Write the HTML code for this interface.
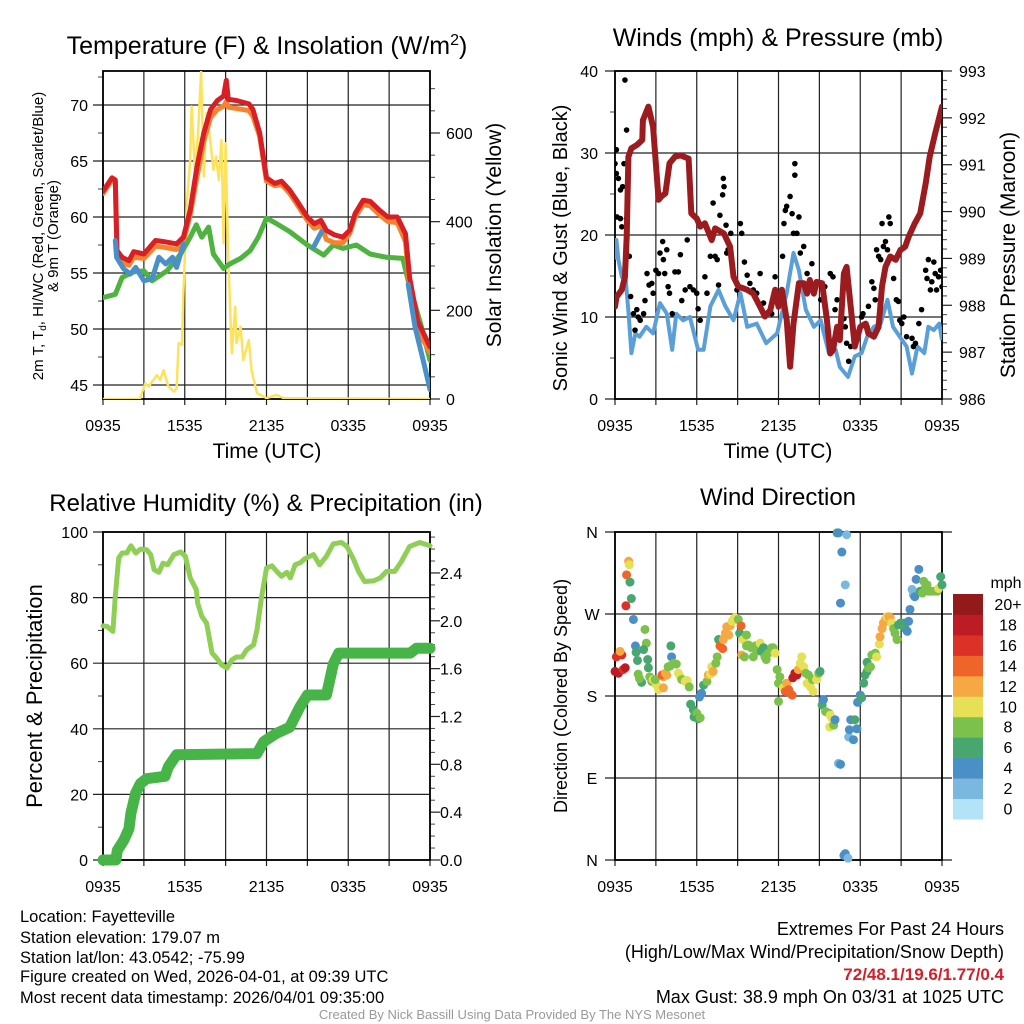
<!DOCTYPE html>
<html><head><meta charset="utf-8">
<style>
html,body{margin:0;padding:0;background:#fff;}
svg{display:block;font-family:"Liberation Sans",Arial,sans-serif;}
</style></head>
<body>
<svg id="fig" width="1024" height="1024" viewBox="0 0 1024 1024" xmlns="http://www.w3.org/2000/svg">
<rect width="1024" height="1024" fill="#fff"/>
<!-- Titles -->
<text x="267" y="54" font-size="25" text-anchor="middle">Temperature (F) &amp; Insolation (W/m<tspan dy="-9" font-size="16">2</tspan><tspan dy="9">)</tspan></text>
<text x="778" y="46" font-size="25" text-anchor="middle">Winds (mph) &amp; Pressure (mb)</text>
<text x="266" y="511" font-size="24" text-anchor="middle">Relative Humidity (%) &amp; Precipitation (in)</text>
<text x="778" y="505" font-size="24" text-anchor="middle">Wind Direction</text>
<!-- Axis titles -->
<text x="267" y="458" font-size="21" text-anchor="middle">Time (UTC)</text>
<text x="778" y="458" font-size="21" text-anchor="middle">Time (UTC)</text>
<text transform="translate(43,236) rotate(-90)" font-size="15" text-anchor="middle">2m T, T<tspan dy="3" font-size="10">d</tspan><tspan dy="-3">, HI/WC (Red, Green, Scarlet/Blue)</tspan></text>
<text transform="translate(58,236) rotate(-90)" font-size="15" text-anchor="middle">&amp; 9m T (Orange)</text>
<text transform="translate(501,235) rotate(-90)" font-size="21" text-anchor="middle">Solar Insolation (Yellow)</text>
<text transform="translate(567,248) rotate(-90)" font-size="20" text-anchor="middle">Sonic Wind &amp; Gust (Blue, Black)</text>
<text transform="translate(1015,255) rotate(-90)" font-size="21" text-anchor="middle">Station Pressure (Maroon)</text>
<text transform="translate(42,696) rotate(-90)" font-size="22" text-anchor="middle">Percent &amp; Precipitation</text>
<text transform="translate(567,696) rotate(-90)" font-size="18" text-anchor="middle">Direction (Colored By Speed)</text>
<!-- Footer -->
<g font-size="16.5">
<text x="20" y="922">Location: Fayetteville</text>
<text x="20" y="943">Station elevation: 179.07 m</text>
<text x="20" y="963">Station lat/lon: 43.0542; -75.99</text>
<text x="20" y="982">Figure created on Wed, 2026-04-01, at 09:39 UTC</text>
<text x="20" y="1003">Most recent data timestamp: 2026/04/01 09:35:00</text>
</g>
<g font-size="18" text-anchor="end">
<text x="1004" y="935">Extremes For Past 24 Hours</text>
<text x="1004" y="958">(High/Low/Max Wind/Precipitation/Snow Depth)</text>
<text x="1004" y="980" fill="#d0202a" font-weight="bold" font-size="17">72/48.1/19.6/1.77/0.4</text>
<text x="1004" y="1003">Max Gust: 38.9 mph On 03/31 at 1025 UTC</text>
</g>
<text x="512" y="1019" font-size="13" fill="#999" text-anchor="middle">Created By Nick Bassill Using Data Provided By The NYS Mesonet</text>
<g id="layer"></g>
</svg>
<script>
// ---- Panel 1 data ----
const timeTickLabels = ["0935","1535","2135","0335","0935"];
const tempRedH = [0,0.66,0.9,1.03,1.4,1.9,2.25,3.0,3.85,4.45,5.4,5.9,6.4,6.9,7.4,7.9,8.4,8.85,9.05,9.2,9.8,10.7,11.0,11.5,12.0,12.6,13.1,13.7,14.2,15.0,15.5,16.0,16.4,17.0,17.6,18.1,18.5,19.1,19.6,20.3,20.9,21.6,22.2,22.5,23.1,24];
const tempRedV = [62.3,63.5,63.3,57.0,56.4,56.1,56.9,56.7,57.9,57.8,57.6,58.2,60.6,64.5,67.5,69.6,70.4,70.8,72.2,70.5,70.4,70.1,69.6,67.5,63.5,63.0,63.2,62.4,61.5,60.0,59.4,59.7,58.8,58.4,58.2,58.8,60.3,61.5,61.4,60.6,60.0,60.0,58.5,54.6,50.7,48.4];
const temp9mV = [62.1,63.3,63.1,56.6,55.9,55.7,56.4,56.3,57.4,57.3,57.1,57.8,60.2,63.6,66.8,68.9,69.6,69.9,70.3,69.8,69.7,69.5,69.0,67.2,63.2,62.8,62.9,62.1,61.2,59.7,59.0,59.2,58.0,57.7,57.7,58.5,60.0,61.1,61.0,60.2,59.6,59.5,57.8,53.6,49.9,47.9];
const chillH = [0.9,1.0,1.5,2.0,2.4,3.0,3.6,4.1,4.6,5.1,5.4,5.9,null,15.45,16.05,null,22.4,22.9,23.5,24];
const chillV = [57.9,56.4,55.4,54.9,55.5,54.3,54.5,56.4,55.8,56.4,55.5,57.6,null,57.3,58.7,null,54.0,50.2,47.2,44.6];
const dewH = [0,0.9,1.4,2.25,3.0,3.6,4.7,5.7,6.4,6.85,7.25,7.75,8.1,8.85,9.3,10.1,10.8,11.4,12.0,12.75,13.7,15.0,16.2,16.9,17.6,18.6,19.6,20.8,22.0,22.4,23.3,24];
const dewV = [52.8,53.1,54.6,55.1,55.2,54.3,55.2,56.7,58.2,59.3,58.2,59.1,56.7,55.4,55.8,56.3,57.0,58.2,59.9,59.4,58.7,57.5,56.6,57.5,57.2,57.5,56.7,56.4,56.3,54.3,50.5,47.2];
const solarH = [0,2.7,3.1,3.35,3.6,3.95,4.2,4.45,4.8,5.2,5.4,5.55,5.8,5.9,6.15,6.4,6.5,6.77,7.0,7.2,7.4,7.6,7.9,8.1,8.3,8.5,8.7,8.85,9.0,9.2,9.45,9.7,9.8,10.1,10.3,10.7,10.9,11.3,12.0,12.75,13.25,24];
const solarV = [0,0,35,28,39,54,43,65,28,17,24,126,122,238,441,539,660,502,614,738,502,645,577,517,547,494,584,351,577,314,103,208,126,163,88,133,65,13,2,9,2,0];
const tempTicks = [45,50,55,60,65,70];
const solarTicks = [0,200,400,600];
// ---- Panel 2 data ----
const windH = [0,0.1,0.25,0.5,0.75,1.0,1.2,1.5,1.8,2.3,2.8,3.3,3.8,4.2,4.5,5.0,5.5,6.1,6.5,7.0,7.6,8.1,8.7,9.2,9.7,10.4,11.1,11.9,12.6,13.1,13.5,14.0,14.6,15.1,15.7,16.2,16.5,17.1,17.6,18.1,18.5,19.0,19.5,20.0,20.4,20.9,21.4,21.8,22.2,22.7,23.0,23.4,23.8,24];
const windV = [17,19.4,17,14.9,15.3,10.4,5.6,8,7.6,8.8,8,11.7,10.4,6,10.4,9.6,10,6,6,11.3,13.3,11.3,9.6,12.9,8.8,9.2,6.8,8,12.9,17.8,15.7,10.9,8.8,9.6,5.6,6,3.9,2.7,5.2,5.6,7.6,8.8,9.2,12.1,8.8,7.6,6.4,3.1,6.4,5.6,8.8,8.4,9.2,7.2];
const gustH = [0,0.1,0.1,0.25,0.4,0.56,0.66,0.85,0.73,0.15,0.4,0.85,0.5,1.05,1.15,1.35,1.47,1.6,1.7,1.85,2.1,2.2,2.35,2.5,2.7,2.8,3.0,3.2,3.3,3.5,3.55,3.8,3.65,3.9,4.0,4.2,4.4,4.65,4.8,4.9,5.15,5.3,5.5,5.75,6.0,6.1,6.25,6.6,6.75,7.0,7.2,7.35,7.5,7.6,7.7,7.9,7.95,8.0,8.15,8.2,8.3,8.5,8.7,8.95,9.2,9.3,9.5,9.7,9.9,10.15,10.4,10.65,10.9,11.1,11.5,11.75,12.3,12.4,12.5,12.6,12.85,13.0,13.1,13.2,13.2,13.35,13.5,13.6,13.85,14.1,14.45,14.6,15.1,15.4,15.8,16.0,16.15,16.3,16.8,16.9,17.0,17.15,17.3,18.1,18.2,18.5,18.6,18.85,19.0,19.1,19.2,19.35,19.5,19.6,19.7,19.85,20.0,20.1,20.2,20.45,20.65,20.8,20.9,21.05,21.2,21.4,21.8,21.9,22.05,22.3,22.5,22.8,22.9,23.0,23.15,23.25,23.4,23.5,23.6,23.75,23.9,24];
const gustV = [28.7,30.4,27.5,26.9,25.5,25.9,28.7,32.8,38.9,22.2,22,22,21,17.4,12.5,10.4,8.4,10.9,10,9.6,10.4,12,15.3,13.9,14.1,12.9,15.7,15.3,17.8,19.2,17,18.2,15.3,13.7,12.9,10.4,15.5,15.5,17.6,12,13.3,19.4,13.7,13.3,12.9,11,9.6,14.9,12.9,17.4,23.9,17.4,17,13.9,22.4,24.9,26.9,25.9,21.2,17.8,18.2,20.2,14.9,13.3,21.4,20.2,16.7,15.1,14.1,13.3,12.9,15.3,11.7,10.4,10.4,14.9,17.4,21.4,23,23.5,24.7,22.6,20.2,27.3,28.7,20.2,22.2,17.8,18.6,15.3,16.5,12.9,12.1,13.7,15.3,14.9,10.9,12.1,9.8,8.8,6.8,4.6,6.4,10,10.4,8.8,11.3,14.3,13.5,12.1,18.2,17.4,17,21.4,18.6,19.2,18.2,22.2,21.4,14.7,12.1,11.9,9.6,9.2,10,7.6,7.4,6.4,6.8,9.2,10.9,15.7,14.7,17,13.3,14.3,16.7,15.3,13.3,14.9,15.7,13.7];
const presH = [0,0.12,0.5,0.73,0.86,0.98,1.2,1.6,2.0,2.05,2.45,2.8,3.2,3.4,3.7,4.0,4.4,4.8,5.4,5.6,6.0,6.25,6.6,7.1,7.35,8.0,8.45,8.7,9.05,9.7,10.15,10.65,11.0,11.4,11.75,12.0,12.25,12.6,12.85,13.1,13.5,13.85,14.1,14.3,14.6,14.8,15.2,15.55,15.8,16.0,16.3,16.5,16.8,17.0,17.3,17.6,18.0,18.4,18.6,19.0,19.35,19.6,19.85,20.2,20.6,20.95,21.3,21.55,22.0,22.4,22.8,23.1,23.5,24];
const presV = [987.97,988.18,988.33,988.6,989.46,991.17,991.35,991.42,991.53,991.95,992.24,991.8,990.25,990.32,990.39,991.03,991.17,991.2,991.13,989.96,989.85,989.68,989.75,989.39,989.64,989.53,989.25,988.61,988.4,988.33,988.25,987.97,987.76,987.9,988.33,987.97,988.33,987.69,986.69,987.61,988.47,988.47,988.25,988.54,988.25,988.5,988.47,987.69,986.97,987.05,987.54,987.26,988.68,988.82,987.97,987.12,987.54,987.61,987.4,987.33,987.54,988.4,988.82,989.04,988.97,989.18,989.25,989.46,989.75,989.96,990.6,991.17,991.67,992.24];
const windTicks = [0,10,20,30,40];
const presTicks = [986,987,988,989,990,991,992,993];
// ---- Panel 3 data ----
const rhH = [0,0.3,0.73,0.9,1.15,1.4,1.75,2.05,2.4,2.75,3.2,3.5,3.75,4.1,4.4,4.75,5.2,5.7,6.05,6.4,6.85,6.95,7.25,7.6,8.0,8.35,8.7,9.1,9.45,9.8,10.2,10.55,11.05,11.3,11.65,12.0,12.4,12.75,13.1,13.5,13.75,14.1,14.5,14.8,15.45,15.9,16.4,16.9,17.5,17.9,18.4,18.75,19.2,19.85,20.35,20.8,21.4,21.9,22.5,23.25,24];
const rhV = [71.4,71.2,69.7,80.4,92.1,93.6,93.6,95.8,93.6,94.8,94.6,93.1,88.5,87.7,90.5,90.0,93.1,93.9,92.6,86.0,82.4,78.3,74.3,72.2,63.1,61.5,59.5,58.5,61.0,61.9,61.9,64.1,65.6,70.2,80.4,89.0,89.7,88.0,86.5,87.7,86.0,90.0,90.7,91.8,93.1,90.0,92.6,96.4,96.8,95.6,91.6,88.0,84.9,85.1,86.0,88.0,88.0,91.0,95.6,96.8,95.8];
const precipH = [0,0.95,1.05,1.55,1.9,2.05,2.4,2.75,3.2,4.55,4.8,5.4,11.3,11.8,12.75,13.7,14.45,15.0,16.4,16.65,16.9,17.3,22.55,23.0,24];
const precipV = [0,0,0.08,0.17,0.26,0.39,0.56,0.64,0.68,0.70,0.78,0.88,0.89,0.99,1.06,1.11,1.28,1.38,1.38,1.51,1.64,1.73,1.73,1.77,1.77];
const rhTicks = [0,20,40,60,80,100];
const precipTicks = [0,0.4,0.8,1.2,1.6,2.0,2.4];
// ---- Panel 4 data ----
const dirH = [0,0.25,0.1,0.5,0.37,0.6,0.75,1.0,1.05,0.85,1.1,1.2,0.8,1.35,1.5,1.55,1.65,2.2,2.3,2.1,2.4,2.45,1.7,1.95,1.8,2.55,2.7,2.8,3.05,3.2,2.95,3.55,3.55,3.45,3.7,3.8,4.05,3.9,4.1,4.15,4.3,4.5,4.65,4.8,4.9,5.15,5.3,5.45,5.55,5.75,5.8,6.0,6.1,6.25,6.2,6.35,6.5,6.75,6.85,7.0,7.1,7.2,7.4,7.5,7.6,7.7,7.9,7.95,8.1,8.2,8.35,8.45,8.6,8.7,8.8,8.95,9.05,9.15,9.25,9.3,9.4,9.5,9.65,9.65,9.8,10.0,10.15,10.3,10.4,10.65,10.75,10.9,11.0,11.1,11.25,11.5,11.6,11.75,11.9,12.0,12.1,12.0,12.35,12.5,12.6,12.75,12.85,13.0,13.05,13.2,13.35,13.45,13.6,13.7,13.85,14.0,14.2,14.1,14.35,14.55,14.5,14.8,14.95,15.05,15.2,15.3,15.45,15.7,15.8,15.9,15.75,16.05,16.15,16.3,16.4,17.0,16.65,16.9,16.55,16.4,16.55,16.8,16.9,17.1,17.15,17.3,17.2,17.5,17.6,17.75,17.8,18.0,18.1,18.25,18.35,18.5,18.6,18.5,18.75,18.85,19.1,19.2,19.4,19.45,19.6,19.7,19.85,19.95,20.1,20.2,20.3,20.45,20.55,20.7,20.8,20.95,21.05,21.2,21.3,21.45,21.55,21.65,21.8,21.9,22.0,22.1,22.3,22.4,22.55,22.65,22.8,22.9,23.0,23.15,23.4,23.65,23.75,23.9,24];
const dirV = [207,205,223,225,229,209,211,328,324,313,305,287,279,264,235,228,219,253,238,231,220,211,204,195,199,201,196,198,192,187,198,189,201,203,205,203,213,212,235,223,216,215,205,201,198,196,197,190,171,165,157,161,155,156,179,183,192,196,203,204,212,207,216,223,242,235,232,242,249,256,247,257,262,264,266,264,264,249,257,225,242,223,235,247,236,233,223,235,229,238,229,233,223,220,227,233,233,227,209,194,201,174,189,185,194,187,183,181,200,205,203,209,216,223,212,205,203,194,190,185,198,198,205,207,170,176,163,161,159,156,146,148,154,359,359,357,338,302,282,106,105,5,7,2,135,154,143,132,154,144,173,181,178,194,203,207,211,217,212,225,227,223,237,245,254,260,264,267,267,266,260,254,249,242,258,260,258,260,254,251,262,275,297,291,289,308,319,295,293,306,300,302,295,295,295,295,298,311,302];
const dirSpd = [19,18,17,16,13,17,19,12,10,15,7,7,17,4,4,7,7,8,8,7,7,7,8,7,8,8,8,10,10,10,8,12,12,14,12,12,8,8,6,4,8,8,10,10,8,10,10,8,7,7,7,8,6,8,4,4,6,8,12,10,10,12,8,8,6,15,14,12,12,12,12,12,10,10,10,10,8,6,14,12,10,8,8,8,8,8,8,8,8,10,6,6,8,8,8,8,8,10,8,8,8,8,10,14,12,14,14,14,18,18,18,12,10,10,10,8,8,10,10,10,8,10,8,6,6,4,8,8,10,10,10,8,4,6,4,2,4,2,4,2,4,4,4,2,2,4,4,4,6,4,4,4,6,6,6,6,8,6,8,8,8,10,10,12,12,12,12,10,12,12,10,8,8,8,6,6,6,6,6,4,4,4,2,2,4,4,4,6,8,8,8,8,8,8,8,8,10,6,6];
const dirTickLabels = ["N","E","S","W","N"];
const dirTickValues = [0,90,180,270,360];
const speedBinLabels = ["0","2","4","6","8","10","12","14","16","18","20+"];
const speedBinColors = ["#b3e3f7","#7ab8e0","#4a8fc6","#47a76e","#7cc14b","#e6e057","#f6a842","#ef6429","#dc3127","#bd1c24","#931a1b"];

const NS = "http://www.w3.org/2000/svg";
const layer = document.getElementById("layer");
function el(tag, attrs, parent) {
  const e = document.createElementNS(NS, tag);
  for (const k in attrs) e.setAttribute(k, attrs[k]);
  (parent || layer).appendChild(e);
  return e;
}
function txt(x, y, s, size, anchor, parent) {
  const t = el("text", {x: x, y: y, "font-size": size, "text-anchor": anchor}, parent);
  t.textContent = s;
  return t;
}
function pathFrom(H, V, xf, yf) {
  let d = "", pen = false;
  for (let i = 0; i < H.length; i++) {
    if (H[i] === null || V[i] === null) { pen = false; continue; }
    d += (pen ? "L" : "M") + xf(H[i]).toFixed(1) + "," + yf(V[i]).toFixed(1);
    pen = true;
  }
  return d;
}
const TICK_FS = 16;

function frame(name, L, T, R, B, leftTicks, leftY, leftFmt, leftMinor, rightTicks, rightY, rightFmt, rightMinor, lblLeftX, lblRightX) {
  const g = el("g", {});
  
  
  const xf = h => L + h * (R - L) / 24;
  for (let i = 0; i <= 8; i++) {
    const x = xf(i * 3);
    const ln = el("line", {x1: x, y1: T, x2: x, y2: B + 6, stroke: "#222", "stroke-width": 1.2}, g);
    
    
  }
  for (let i = 0; i < timeTickLabels.length; i++) {
    const t = txt(xf(i * 6), B + 32, timeTickLabels[i], TICK_FS, "middle", g);
    
    
  }
  leftTicks.forEach(v => {
    const y = leftY(v);
    const ln = el("line", {x1: L - 10, y1: y, x2: R, y2: y, stroke: "#222", "stroke-width": 1.2}, g);
    
    
    const t = txt(lblLeftX, y + 6, leftFmt(v), TICK_FS, "end", g);
    
    
  });
  leftMinor.forEach(v => {
    const y = leftY(v);
    el("line", {x1: L - 5, y1: y, x2: L, y2: y, stroke: "#444", "stroke-width": 1}, g);
  });
  if (rightTicks) {
    rightTicks.forEach(v => {
      const y = rightY(v);
      el("line", {x1: R, y1: y, x2: R + 10, y2: y, stroke: "#222", "stroke-width": 1.2}, g);
      const t = txt(lblRightX, y + 6, rightFmt(v), TICK_FS, "start", g);
      
      
    });
    rightMinor.forEach(v => {
      const y = rightY(v);
      el("line", {x1: R, y1: y, x2: R + 5, y2: y, stroke: "#444", "stroke-width": 1}, g);
    });
  }
  const box = el("rect", {x: L, y: T, width: R - L, height: B - T, fill: "none", stroke: "#000", "stroke-width": 1.8}, g);
  
  
  return xf;
}

// ===== Panel 1 =====
(function () {
  const L = 103, T = 71, R = 430, B = 399;
  const yT = t => 385 - (t - 45) * 11.2;
  const yS = w => 399 - w * 266 / 600;
  const minorL = [], minorR = [];
  for (let v = 47.5; v < 73; v += 5) minorL.push(v);
  for (let v = 50; v < 740; v += 50) if (v % 200) minorR.push(v);
  const xf = frame("p1", L, T, R, B, tempTicks, yT, v => String(v), minorL, solarTicks, yS, v => String(v), minorR, 88, 446);
  const cp = el("clipPath", {id: "c1"}); el("rect", {x: L, y: T, width: R - L, height: B - T}, cp);
  const g = el("g", {"clip-path": "url(#c1)"});
  const add = (H, V, yf, col, w, name) => {
    const p = el("path", {d: pathFrom(H, V, xf, yf), fill: "none", stroke: col, "stroke-width": w, "stroke-linejoin": "round", "stroke-linecap": "round"}, g);
    
    
  };
  add(solarH, solarV, yS, "#fde35c", 2.5, "solar-insolation-line");
  add(dewH, dewV, yT, "#4fb33f", 5, "dewpoint-line");
  add(tempRedH, temp9mV, yT, "#f5822e", 5, "temp-9m-line");
  add(tempRedH, tempRedV, yT, "#d81f26", 5, "temp-2m-line");
  add(chillH, chillV, yT, "#4a90c8", 5, "heat-index-wind-chill-line");
})();

// ===== Panel 2 =====
(function () {
  const L = 615, T = 71, R = 942, B = 399;
  const yW = m => 399 - m * 8.2;
  const yP = p => 399 - (p - 986) * 46.86;
  const minorL = [5, 15, 25, 35];
  const minorR = [];
  for (let v = 986.2; v < 993; v += 0.2) if (Math.abs(v - Math.round(v)) > 0.05) minorR.push(v);
  const xf = frame("p2", L, T, R, B, windTicks, yW, v => String(v), minorL, presTicks, yP, v => String(v), minorR, 598, 959);
  const cp = el("clipPath", {id: "c2"}); el("rect", {x: L, y: T, width: R - L, height: B - T}, cp);
  const g = el("g", {"clip-path": "url(#c2)"});
  const w = el("path", {d: pathFrom(windH, windV, xf, yW), fill: "none", stroke: "#5a9fd8", "stroke-width": 4, "stroke-linejoin": "round"}, g);
  
  
  for (let i = 0; i < gustH.length; i++) {
    const c = el("circle", {cx: xf(gustH[i]), cy: yW(gustV[i]), r: 2.8, fill: "#000"}, g);
    
    
  }
  const p = el("path", {d: pathFrom(presH, presV, xf, yP), fill: "none", stroke: "#9b1b1e", "stroke-width": 6, "stroke-linejoin": "round", "stroke-linecap": "round"}, g);
  
  
})();

// ===== Panel 3 =====
(function () {
  const L = 103, T = 532, R = 430, B = 860;
  const yR = r => 860 - r * 3.28;
  const yPr = v => 860 - v * 119.6;
  const minorL = [10, 30, 50, 70, 90];
  const minorR = [];
  for (let v = 0.1; v < 2.74; v += 0.1) if (Math.abs(v / 0.4 - Math.round(v / 0.4)) > 0.05) minorR.push(v);
  const xf = frame("p3", L, T, R, B, rhTicks, yR, v => String(v), minorL, precipTicks, yPr, v => v.toFixed(1), minorR, 88, 440);
  const g = el("g", {});
  const rh = el("path", {d: pathFrom(rhH, rhV, xf, yR), fill: "none", stroke: "#8fcf55", "stroke-width": 5, "stroke-linejoin": "round", "stroke-linecap": "round"}, g);
  
  
  const pr = el("path", {d: pathFrom(precipH, precipV, xf, yPr), fill: "none", stroke: "#47b447", "stroke-width": 11, "stroke-linejoin": "round", "stroke-linecap": "round"}, g);
  
  
})();

// ===== Panel 4 =====
(function () {
  const L = 615, T = 532, R = 942, B = 860;
  const yD = d => 860 - d * 328 / 360;
  const g0 = el("g", {});
  const xf = h => L + h * (R - L) / 24;
  for (let i = 0; i <= 8; i++) {
    const x = xf(i * 3);
    el("line", {x1: x, y1: T, x2: x, y2: B + 6, stroke: "#222", "stroke-width": 1.2}, g0);
  }
  for (let i = 0; i < timeTickLabels.length; i++) {
    const t = txt(xf(i * 6), B + 32, timeTickLabels[i], TICK_FS, "middle", g0);
    
    
  }
  dirTickValues.forEach((v, i) => {
    const y = yD(v);
    el("line", {x1: L - 10, y1: y, x2: R + 10, y2: y, stroke: "#222", "stroke-width": 1.2}, g0);
    const t = txt(592, y + 6, dirTickLabels[i], TICK_FS, "middle", g0);
    
    
  });
  el("rect", {x: L, y: T, width: R - L, height: B - T, fill: "none", stroke: "#000", "stroke-width": 1.8}, g0);
  const g = el("g", {});
  for (let i = 0; i < dirH.length; i++) {
    const b = Math.min(10, Math.max(0, Math.floor(dirSpd[i] / 2)));
    const c = el("circle", {cx: xf(dirH[i]), cy: yD(dirV[i]), r: 4.5, fill: speedBinColors[b]}, g);
    
    
  }
  const cb = el("g", {});
  
  
  const cbTop = 594;
  const tl = txt(1006, 588, "mph", 16, "middle", cb);
  
  
  for (let i = 0; i < speedBinColors.length; i++) {
    const k = speedBinColors.length - 1 - i;
    const y = cbTop + (k * 225 / 11);
    el("rect", {x: 953, y: y, width: 30, height: 225 / 11 + 0.5, fill: speedBinColors[i]}, cb);
    const t = txt(1008, y + 16, speedBinLabels[i], 16, "middle", cb);
    
    
  }
})();
</script>
</body></html>
